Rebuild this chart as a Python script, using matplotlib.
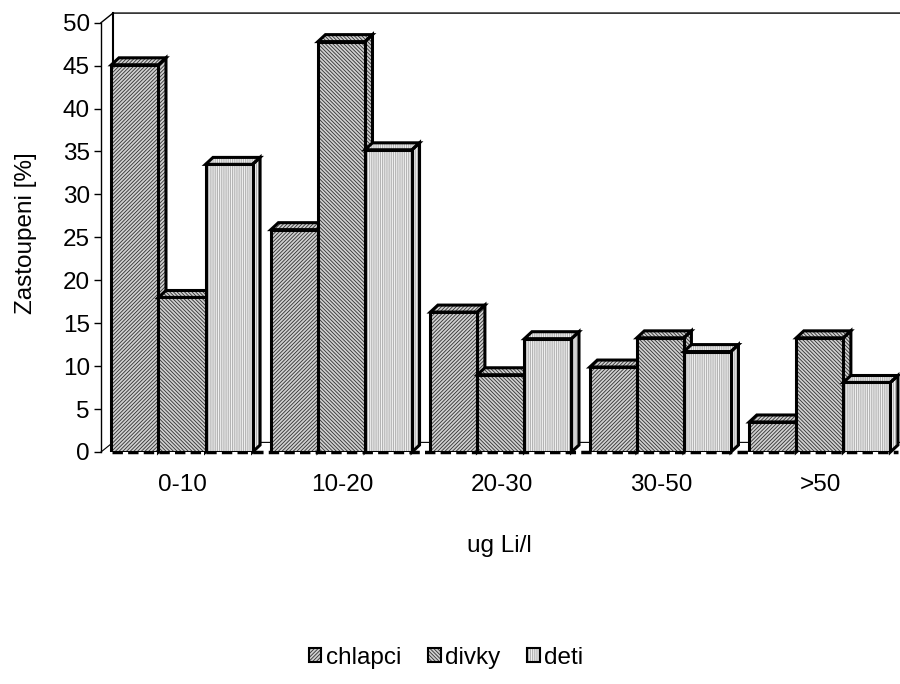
import matplotlib
matplotlib.use("Agg")
import matplotlib.pyplot as plt
from matplotlib.patches import Polygon, Patch
import numpy as np

plt.rcParams['font.family'] = ['Liberation Sans', 'DejaVu Sans']
plt.rcParams['hatch.linewidth'] = 0.6

# data
categories = ['0-10', '10-20', '20-30', '30-50', '>50']
series_names = ['chlapci', 'divky', 'deti']
chlapci = [45.1, 25.9, 16.3, 9.9, 3.5]
divky = [18.0, 47.8, 9.0, 13.3, 13.3]
deti = [33.5, 35.2, 13.2, 11.7, 8.1]
values = [chlapci, divky, deti]

hatches = ['/' * 9, '\\' * 9, '|' * 9]
face_colors = ['#d0d0d0', '#d0d0d0', '#f2f2f2']
hatch_colors = ['#303030', '#303030', '#a8a8a8']

width = 0.295
bdx, bdy = 0.047, 0.81     # bar depth
wdx, wdy = 0.075, 1.12     # wall depth
x = np.arange(len(categories))
fs = 17.5

fig = plt.figure(figsize=(9, 6.84), dpi=100)
ax = fig.add_axes([101/900, 1-452/684, 797/900, (452-22.7)/684])
ax.set_xlim(-0.508, 4.49)
ax.set_ylim(0, 50)

def face(pts, k, z):
    ax.add_patch(Polygon(pts, closed=True, facecolor=face_colors[k], edgecolor=hatch_colors[k],
                         hatch=hatches[k], linewidth=0, zorder=z, clip_on=False))
    ax.add_patch(Polygon(pts, closed=True, fill=False, edgecolor='black',
                         linewidth=2.2, joinstyle='miter', zorder=z + 0.01, clip_on=False))

for k, vals in enumerate(values):
    xs = x + (k - 1) * width
    z = 3 + k
    for xc, v in zip(xs, vals):
        l, r = xc - width / 2, xc + width / 2
        face([(r, 0), (r + bdx, bdy), (r + bdx, v + bdy), (r, v)], k, z)
        face([(l, v), (r, v), (r + bdx, v + bdy), (l + bdx, v + bdy)], k, z)
    ax.bar(xs, vals, width, color=face_colors[k], edgecolor=hatch_colors[k], hatch=hatches[k],
           linewidth=0, zorder=z + 0.05)
    ax.bar(xs, vals, width, fill=False, edgecolor='black', linewidth=2.2, zorder=z + 0.06)

# back wall and floor
x0, x1 = -0.508, 4.49
ax.plot([x0, x0 + wdx, x1 + 0.1], [50, 50 + wdy, 50 + wdy], color='black', lw=1.0,
        clip_on=False, zorder=1)
ax.plot([x0 + wdx, x0 + wdx], [wdy, 50 + wdy], color='black', lw=1.5, clip_on=False, zorder=1)
ax.plot([x0, x0 + wdx, x1 + 0.1], [0, wdy, wdy], color='black', lw=0.8, clip_on=False, zorder=1)
ax.plot([x0 + 0.07, x1], [0, 0], color='black', lw=2.5, linestyle=(0, (3, 1.5)),
        solid_capstyle='butt', clip_on=False, zorder=2)

for s in ['top', 'right', 'bottom']:
    ax.spines[s].set_visible(False)
ax.spines['left'].set_linewidth(1.0)
ax.set_yticks(np.arange(0, 51, 5))
ax.tick_params(axis='y', direction='out', length=5, width=1.0, pad=3, labelsize=fs)
ax.set_xticks(x + 0.005)
ax.set_xticklabels(categories)
ax.tick_params(axis='x', length=0, pad=16, labelsize=fs)

ax.set_ylabel('Zastoupeni [%]', fontsize=fs)
ax.yaxis.set_label_coords(-0.08, 0.51)
ax.set_xlabel('ug Li/l', fontsize=fs, labelpad=28)

handles = [Patch(facecolor=face_colors[k], edgecolor=hatch_colors[k], hatch=hatches[k], linewidth=0)
           for k in range(3)]
outline = [Patch(fill=False, edgecolor='black', linewidth=1.5) for k in range(3)]
fig.legend([(h, o) for h, o in zip(handles, outline)], series_names, loc='center',
           bbox_to_anchor=(0.496, 0.038), ncol=3, frameon=False, fontsize=fs,
           handlelength=0.5, handleheight=0.5, handletextpad=0.2, columnspacing=1.1)

fig.savefig('out.png', dpi=100)
